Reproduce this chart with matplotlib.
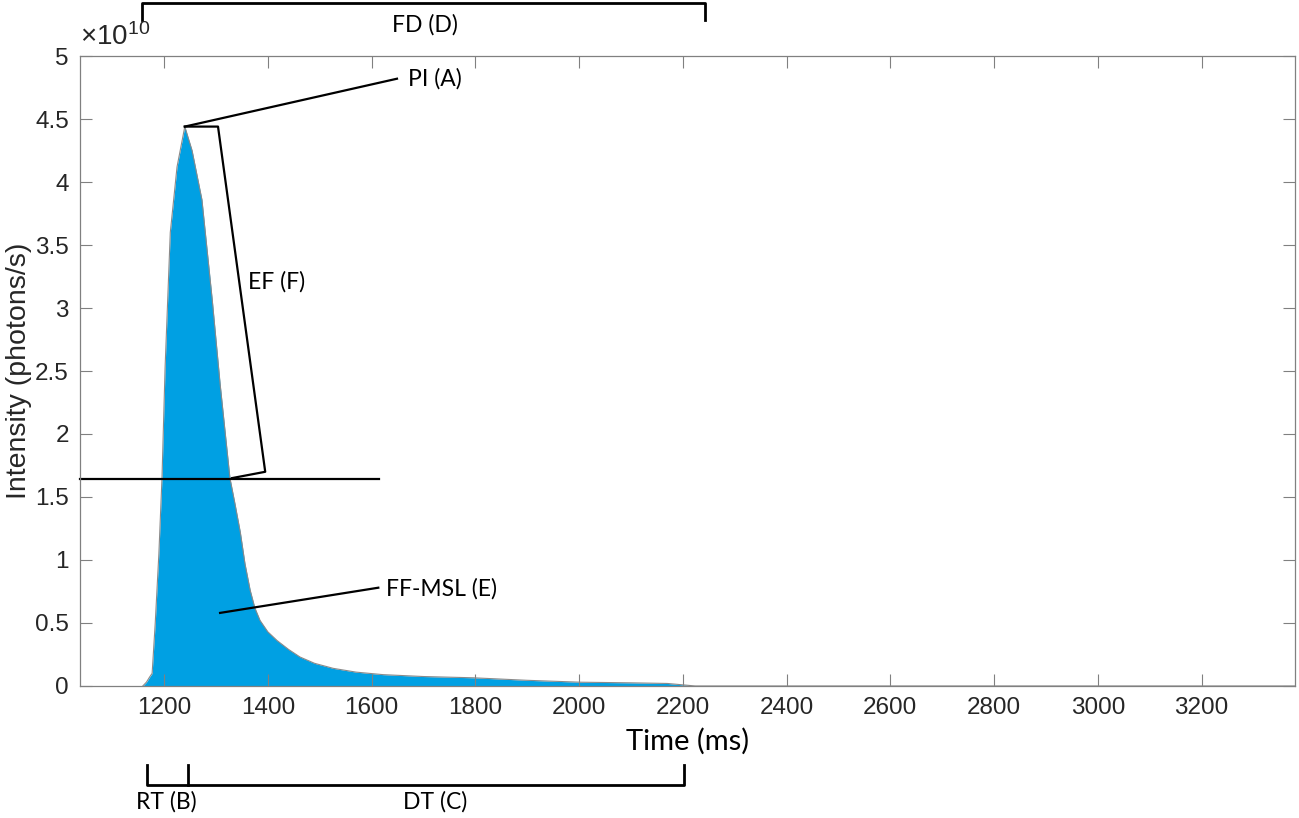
import matplotlib
matplotlib.use("Agg")
import matplotlib.pyplot as plt
from matplotlib.ticker import FuncFormatter

plt.rcParams['font.family'] = ['Liberation Sans', 'DejaVu Sans']
plt.rcParams['mathtext.fontset'] = 'custom'
plt.rcParams['mathtext.rm'] = 'Liberation Sans'
plt.rcParams['mathtext.it'] = 'Liberation Sans'

# signal (time in ms, intensity in photons/s)
time_ms = [1159, 1166, 1172, 1177, 1183, 1190, 1196, 1202, 1212, 1225, 1240,
           1254, 1273, 1293, 1308, 1327, 1337, 1347, 1356, 1366, 1375, 1385,
           1400, 1418, 1440, 1462, 1490, 1526, 1570, 1622, 1700, 1796, 1900,
           2002, 2100, 2170, 2224, 3380]
intensity = [0.0, 0.03e10, 0.07e10, 0.10e10, 0.5e10, 1.05e10, 1.65e10, 2.53e10,
             3.60e10, 4.12e10, 4.44e10, 4.25e10, 3.86e10, 3.06e10, 2.40e10,
             1.65e10, 1.44e10, 1.22e10, 0.97e10, 0.76e10, 0.62e10, 0.52e10,
             0.43e10, 0.36e10, 0.29e10, 0.23e10, 0.18e10, 0.14e10, 0.11e10,
             0.09e10, 0.075e10, 0.065e10, 0.045e10, 0.03e10, 0.025e10,
             0.02e10, 0.0, 0.0]

x_ticks = [1200, 1400, 1600, 1800, 2000, 2200, 2400, 2600, 2800, 3000, 3200]
y_ticks = [0, 0.5e10, 1e10, 1.5e10, 2e10, 2.5e10, 3e10, 3.5e10, 4e10, 4.5e10, 5e10]

# annotation points (data coords)
peak = (1240, 4.44e10)
pi_end = (1649, 4.82e10)
ef_x = [1240, 1304, 1395, 1331]
ef_y = [4.44e10, 4.44e10, 1.70e10, 1.65e10]
level_y = 1.64e10
level_x_end = 1615
ff_x = [1308, 1613]
ff_y = [0.58e10, 0.78e10]
fd_x = [1158, 2243]
rt_x = [1167, 1246]
dt_end = 2203

fig = plt.figure(figsize=(12.99, 8.18), dpi=100)
ax = fig.add_axes([0.0616, 0.1614, 0.9353, 0.7701])

ax.fill_between(time_ms, intensity, color='#00A0E3', lw=0)
ax.plot(time_ms, intensity, color='#8a8a8a', lw=0.8)

ax.set_xlim(1038, 3380)
ax.set_ylim(0, 5e10)
ax.set_xticks(x_ticks)
ax.set_yticks(y_ticks)
ax.yaxis.set_major_formatter(FuncFormatter(lambda v, p: '%g' % (v / 1e10)))
ax.tick_params(direction='in', length=8.5, width=0.8, color='#808080',
               labelsize=17.5, labelcolor='#262626', top=True, right=True, pad=8)
for s in ax.spines.values():
    s.set_color('#808080')
    s.set_linewidth(0.9)

ax.set_ylabel('Intensity (photons/s)', fontsize=20.5, color='#262626', labelpad=2)
ax.set_xlabel('Time (ms)', fontsize=21, family='Lato', labelpad=6)
ax.text(0.0, 1.008, r'$\times10^{10}$', transform=ax.transAxes, fontsize=20,
        color='#262626', ha='left', va='bottom')

lab = dict(family='Lato', fontsize=16.5, color='black')
lk = dict(color='black', lw=1.6, clip_on=False)

# PI (A)
ax.plot([peak[0], pi_end[0]], [peak[1], pi_end[1]], **lk)
ax.text(1671, 4.82e10, 'PI (A)', ha='left', va='center', **lab)
# EF (F)
ax.plot(ef_x, ef_y, **lk)
ax.text(1362, 3.21e10, 'EF (F)', ha='left', va='center', **lab)
ax.plot([1038, level_x_end], [level_y, level_y], **lk)
# FF-MSL (E)
ax.plot(ff_x, ff_y, **lk)
ax.text(1628, 0.77e10, 'FF-MSL (E)', ha='left', va='center', **lab)

# FD (D) bracket above axes
tr = ax.get_xaxis_transform()
bk = dict(color='black', lw=2.0, clip_on=False, transform=tr)
ax.plot([fd_x[0], fd_x[0], fd_x[1], fd_x[1]], [1.057, 1.084, 1.084, 1.057], **bk)
ax.text(1703, 1.049, 'FD (D)', ha='center', va='center', transform=tr, **lab)

# RT (B) / DT (C) brackets below axes
ax.plot([rt_x[0], rt_x[0], dt_end, dt_end], [-0.125, -0.157, -0.157, -0.125], **bk)
ax.plot([rt_x[1], rt_x[1]], [-0.125, -0.157], **bk)
ax.text(1204, -0.184, 'RT (B)', ha='center', va='center', transform=tr, **lab)
ax.text(1723, -0.184, 'DT (C)', ha='center', va='center', transform=tr, **lab)

fig.savefig('out.png', dpi=100)
